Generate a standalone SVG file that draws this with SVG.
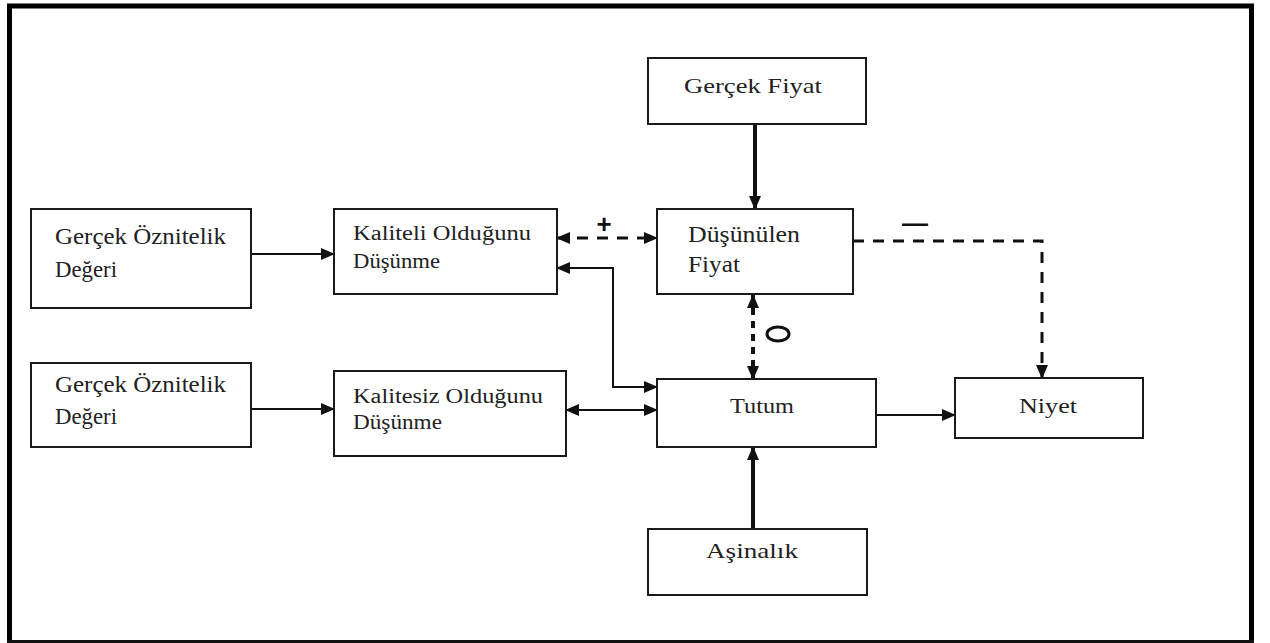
<svg xmlns="http://www.w3.org/2000/svg" width="1270" height="643" viewBox="0 0 1270 643">
  <style>
    .box { fill: #fff; stroke: #1a1a1a; stroke-width: 2; }
    .lbl { font-family: "Liberation Serif", "Times New Roman", serif; fill: #222; }
    .big { font-size: 24px; }
    .mid { font-size: 22px; }
    .sm { font-size: 20px; }
    .ln { fill: none; stroke: #111; stroke-width: 2; }
    .thick { fill: none; stroke: #111; stroke-width: 4; }
    .dash { fill: none; stroke: #111; stroke-width: 3; stroke-dasharray: 11 9; }
    .dashv { fill: none; stroke: #111; stroke-width: 4; stroke-dasharray: 7 6; }
    .sign { font-family: "Liberation Sans", Arial, sans-serif; font-weight: bold; fill: #111; }
  </style>
  <defs>
    <marker id="ah" viewBox="0 0 14 12" refX="13" refY="6" markerWidth="14" markerHeight="12" markerUnits="userSpaceOnUse" orient="auto-start-reverse">
      <path d="M0,0 L14,6 L0,12 z" fill="#111"/>
    </marker>
  </defs>

  <rect width="1270" height="643" fill="#fff"/>

  <!-- outer frame -->
  <g id="frame">
    <line x1="7" y1="6" x2="1254" y2="6" stroke="#000" stroke-width="5"/>
    <line x1="9.5" y1="4" x2="9.5" y2="643" stroke="#000" stroke-width="5"/>
    <line x1="1251.5" y1="4" x2="1251.5" y2="643" stroke="#000" stroke-width="5"/>
    <line x1="7" y1="641.5" x2="1254" y2="641.5" stroke="#111" stroke-width="3"/>
  </g>

  <!-- connectors -->
  <g id="connectors">
    <line class="ln" x1="251" y1="254" x2="334" y2="254" marker-end="url(#ah)"/>
    <line class="ln" x1="251" y1="409" x2="334" y2="409" stroke-width="3" marker-end="url(#ah)"/>
    <line class="dash" x1="557" y1="238" x2="657" y2="238" marker-start="url(#ah)" marker-end="url(#ah)"/>
    <path class="ln" d="M557,268 H613 V387 H657" marker-start="url(#ah)" marker-end="url(#ah)"/>
    <line class="ln" x1="566" y1="410" x2="657" y2="410" marker-start="url(#ah)" marker-end="url(#ah)"/>
    <line class="thick" x1="755" y1="124" x2="755" y2="209" marker-end="url(#ah)"/>
    <line class="dashv" x1="753" y1="295" x2="753" y2="379" marker-start="url(#ah)" marker-end="url(#ah)"/>
    <path class="dash" d="M853,241 H1042 V378" marker-end="url(#ah)"/>
    <line class="ln" x1="876" y1="415" x2="955" y2="415" marker-end="url(#ah)"/>
    <line class="thick" x1="753" y1="529" x2="753" y2="447" marker-end="url(#ah)"/>
    <text class="sign" x="604" y="233" font-size="26" text-anchor="middle">+</text>
    <text class="sign" x="915" y="232" font-size="26" text-anchor="middle">—</text>
    <ellipse cx="778" cy="334" rx="11" ry="7" fill="none" stroke="#111" stroke-width="3"/>
  </g>

  <g id="gercek-oznitelik-1">
    <rect class="box" x="31" y="209" width="220" height="99"/>
    <text class="lbl big" x="55" y="244" textLength="171" lengthAdjust="spacingAndGlyphs">Gerçek Öznitelik</text>
    <text class="lbl big" x="55" y="277" textLength="62" lengthAdjust="spacingAndGlyphs">Değeri</text>
  </g>

  <g id="gercek-oznitelik-2">
    <rect class="box" x="31" y="363" width="220" height="84"/>
    <text class="lbl big" x="55" y="392" textLength="171" lengthAdjust="spacingAndGlyphs">Gerçek Öznitelik</text>
    <text class="lbl big" x="55" y="424" textLength="62" lengthAdjust="spacingAndGlyphs">Değeri</text>
  </g>

  <g id="kaliteli">
    <rect class="box" x="334" y="209" width="223" height="85"/>
    <text class="lbl sm" x="353" y="240" textLength="178" lengthAdjust="spacingAndGlyphs">Kaliteli Olduğunu</text>
    <text class="lbl sm" x="353" y="268" textLength="87" lengthAdjust="spacingAndGlyphs">Düşünme</text>
  </g>

  <g id="kalitesiz">
    <rect class="box" x="334" y="371" width="232" height="85"/>
    <text class="lbl sm" x="353" y="403" textLength="190" lengthAdjust="spacingAndGlyphs">Kalitesiz Olduğunu</text>
    <text class="lbl sm" x="353" y="429" textLength="89" lengthAdjust="spacingAndGlyphs">Düşünme</text>
  </g>

  <g id="gercek-fiyat">
    <rect class="box" x="648" y="58" width="218" height="66"/>
    <text class="lbl mid" x="684" y="93" textLength="138" lengthAdjust="spacingAndGlyphs">Gerçek Fiyat</text>
  </g>

  <g id="dusunulen-fiyat">
    <rect class="box" x="657" y="209" width="196" height="85"/>
    <text class="lbl big" x="688" y="242" textLength="112" lengthAdjust="spacingAndGlyphs">Düşünülen</text>
    <text class="lbl big" x="688" y="272" textLength="52" lengthAdjust="spacingAndGlyphs">Fiyat</text>
  </g>

  <g id="tutum">
    <rect class="box" x="657" y="379" width="219" height="68"/>
    <text class="lbl mid" x="730" y="413" textLength="64" lengthAdjust="spacingAndGlyphs">Tutum</text>
  </g>

  <g id="niyet">
    <rect class="box" x="955" y="378" width="188" height="60"/>
    <text class="lbl mid" x="1019" y="413" textLength="58" lengthAdjust="spacingAndGlyphs">Niyet</text>
  </g>

  <g id="asinalik">
    <rect class="box" x="648" y="529" width="219" height="66"/>
    <text class="lbl mid" x="706" y="558" textLength="92" lengthAdjust="spacingAndGlyphs">Aşinalık</text>
  </g>
</svg>
